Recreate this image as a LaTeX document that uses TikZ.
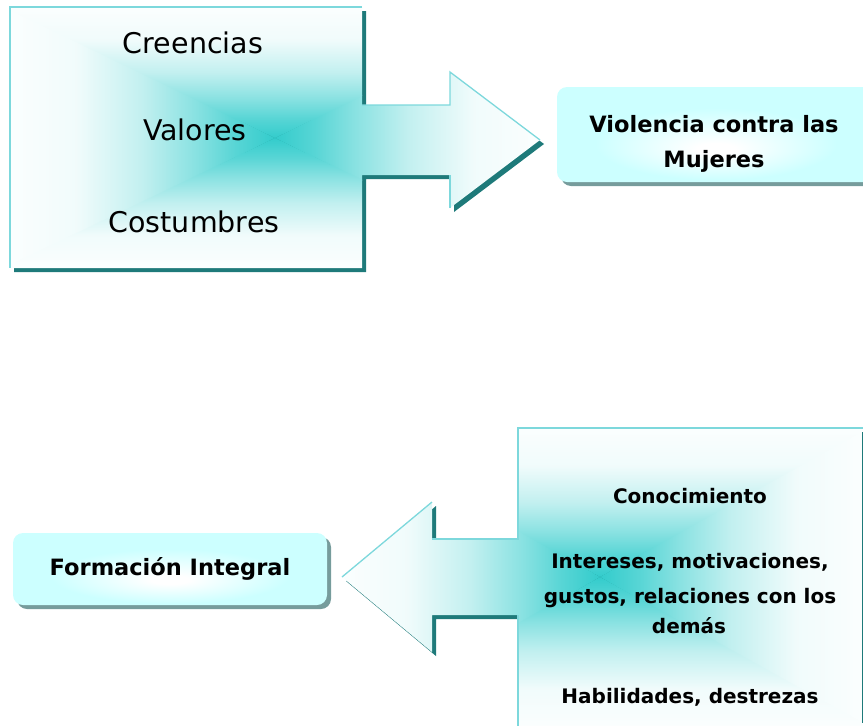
\documentclass[tikz,border=0pt]{standalone}
\usepackage{fontspec}
\setmainfont{DejaVu Sans}
\usetikzlibrary{shadows}
\definecolor{tealc}{RGB}{51,204,204}
\definecolor{lite}{RGB}{125,216,220}
\definecolor{darkt}{RGB}{30,122,122}
\definecolor{boxc}{RGB}{204,255,255}
\definecolor{boxsh}{RGB}{118,156,156}
\pgfdeclareverticalshading{gN}{100bp}{color(0bp)=(tealc); color(25bp)=(tealc); color(32.5bp)=(tealc!82!white); color(40bp)=(tealc!58!white); color(50bp)=(tealc!30!white); color(62.5bp)=(tealc!7!white); color(75bp)=(tealc!2!white); color(100bp)=(tealc!2!white)}
\pgfdeclareverticalshading{gS}{100bp}{color(0bp)=(tealc!2!white); color(25bp)=(tealc!2!white); color(37.5bp)=(tealc!7!white); color(50bp)=(tealc!30!white); color(60bp)=(tealc!58!white); color(67.5bp)=(tealc!82!white); color(75bp)=(tealc); color(100bp)=(tealc)}
\pgfdeclarehorizontalshading{gE}{100bp}{color(0bp)=(tealc); color(25bp)=(tealc); color(32.5bp)=(tealc!82!white); color(40bp)=(tealc!58!white); color(50bp)=(tealc!30!white); color(62.5bp)=(tealc!7!white); color(75bp)=(tealc!2!white); color(100bp)=(tealc!2!white)}
\pgfdeclarehorizontalshading{gW}{100bp}{color(0bp)=(tealc!2!white); color(25bp)=(tealc!2!white); color(37.5bp)=(tealc!7!white); color(50bp)=(tealc!30!white); color(60bp)=(tealc!58!white); color(67.5bp)=(tealc!82!white); color(75bp)=(tealc); color(100bp)=(tealc)}
\pgfdeclareradialshading{glow}{\pgfpoint{0bp}{-8bp}}{color(0bp)=(white); color(3bp)=(white); color(19bp)=(boxc); color(50bp)=(boxc)}
% L T R B cx cy
\newcommand\rectgrad[6]{%
  \shade[shading=gW] (#5,#6) -- (#1,#2) -- (#1,#4) -- cycle;
  \shade[shading=gE] (#5,#6) -- (#3,#2) -- (#3,#4) -- cycle;
  \shade[shading=gN] (#5,#6) -- (#1-6,#2) -- (#3+6,#2) -- cycle;
  \shade[shading=gS] (#5,#6) -- (#1-6,#4) -- (#3+6,#4) -- cycle;
}
\tikzset{
  shapeA/.style={insert path={(10,7) -- (362,7) -- (362,105) -- (450,105) -- (450,72) -- (540,140) -- (450,208) -- (450,175) -- (362,175) -- (362,268) -- (10,268) -- cycle}},
  shapeB/.style={insert path={(342,577) -- (432,502) -- (432,539) -- (518,539) -- (518,428) -- (880,428) -- (880,740) -- (518,740) -- (518,615) -- (432,615) -- (432,652) -- cycle}},
  lit/.style={draw=lite, line width=1.3pt},
  rbox/.style={rectangle, rounded corners=10pt, shade, shading=glow, inner sep=0pt,
    drop shadow={shadow xshift=4pt, shadow yshift=-4pt, fill=boxsh, opacity=1}},
  t1/.style={anchor=base, font=\fontsize{28.5}{34}\selectfont},
  t2/.style={anchor=base, font=\bfseries\fontsize{22.5}{27}\selectfont},
  t3/.style={anchor=base, font=\bfseries\fontsize{20}{24}\selectfont},
}
\begin{document}
\begin{tikzpicture}[x=1pt,y=-1pt]
\useasboundingbox (0,0) rectangle (863,726);
\clip (0,0) rectangle (863,726);
% shadows of the arrow shapes
\begin{scope}[shift={(4,4)}]
  \fill[darkt,shapeA];
  \fill[darkt,shapeB];
\end{scope}
% gradient fills
\begin{scope}
  \clip[shapeA];
  \rectgrad{10}{7}{540}{268}{275}{138}
\end{scope}
\begin{scope}
  \clip[shapeB];
  \rectgrad{342}{428}{862}{726}{600}{577}
\end{scope}
% lit edges
\draw[lit] (362,7) -- (10,7) -- (10,268);
\draw[lit] (362,105) -- (450,105) -- (450,72) -- (540,140);
\draw[lit] (450,208) -- (450,175);
\draw[lit] (880,428) -- (518,428) -- (518,539) -- (432,539);
\draw[lit] (432,502) -- (342,577);
\draw[lit] (518,615) -- (518,740);
% rounded boxes
\node[rbox, minimum width=318pt, minimum height=95pt] (viol) at (716,134.5) {};
\node[rbox, minimum width=314pt, minimum height=72pt] (form) at (170,569) {};
% texts
\node[t1] (cre) at (193,53) {Creencias};
\node[t1] (val) at (195,140) {Valores};
\node[t1] (cos) at (194,232) {Costumbres};
\node[t2] (vio1) at (714,132) {Violencia contra las};
\node[t2] (vio2) at (714,167) {Mujeres};
\node[t2] (fi) at (170,575) {Formación Integral};
\node[t3] (con) at (690,503) {Conocimiento};
\node[t3] (int1) at (690,568) {Intereses, motivaciones,};
\node[t3] (int2) at (690,603) {gustos, relaciones con los};
\node[t3] (int3) at (689,633) {demás};
\node[t3] (hab) at (690,703) {Habilidades, destrezas};
\end{tikzpicture}
\end{document}
